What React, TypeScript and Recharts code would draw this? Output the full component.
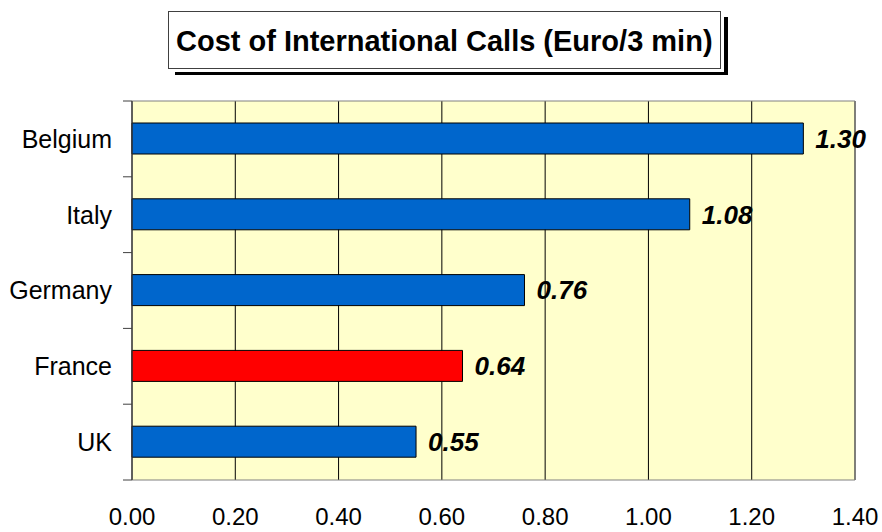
import { BarChart, Bar, XAxis, YAxis, CartesianGrid, ReferenceArea, LabelList, Cell } from 'recharts';

const countries = ['Belgium', 'Italy', 'Germany', 'France', 'UK'];
const costs = [1.3, 1.08, 0.76, 0.64, 0.55];
const barColors = ['#0066CC', '#0066CC', '#0066CC', '#FF0000', '#0066CC'];
const xTicks = [0, 0.2, 0.4, 0.6, 0.8, 1.0, 1.2, 1.4];

const data = countries.map((country, i) => ({ country, cost: costs[i] }));

const FONT = 'Arial, "Liberation Sans", Helvetica, sans-serif';
const PLOT_H = 379;
const BAND = PLOT_H / countries.length;

// category label plus the tick marks that sit on the band boundaries
function CountryTick(props: any) {
  const { x, y, payload, index } = props;
  const lineX1 = x + 11;
  const lineX2 = x + 20;
  return (
    <g>
      <text x={x} y={y} dy="0.355em" textAnchor="end" fontFamily={FONT} fontSize={25} fill="#000">
        {payload.value}
      </text>
      <line x1={lineX1} x2={lineX2} y1={y - BAND / 2} y2={y - BAND / 2} stroke="#404040" />
      {index === countries.length - 1 && (
        <line x1={lineX1} x2={lineX2} y1={y + BAND / 2} y2={y + BAND / 2} stroke="#404040" />
      )}
    </g>
  );
}

function ValueLabel(props: any) {
  const { x, y, width, height, value } = props;
  return (
    <text
      x={x + width + 12}
      y={y + height / 2}
      dy="0.355em"
      fontFamily={FONT}
      fontSize={26}
      fontWeight="bold"
      fontStyle="italic"
      fill="#000"
    >
      {Number(value).toFixed(2)}
    </text>
  );
}

export default function App() {
  return (
    <div style={{ position: 'absolute', left: 0, top: 0, width: 882, height: 532, background: '#fff' }}>
      <div
        style={{
          position: 'absolute',
          left: 168,
          top: 11,
          width: 551,
          height: 56,
          border: '1px solid #404040',
          background: '#fff',
          boxShadow: '0 0 0 3px #fff, 7px 6px 0 #000',
          boxSizing: 'content-box',
        }}
      >
        <div
          style={{
            fontFamily: FONT,
            fontWeight: 'bold',
            fontSize: 29,
            lineHeight: '58px',
            whiteSpace: 'nowrap',
            paddingLeft: 7,
            color: '#000',
          }}
        >
          Cost of International Calls (Euro/3 min)
        </div>
      </div>
      <div style={{ position: 'absolute', left: 0, top: 0 }}>
        <BarChart
          width={882}
          height={532}
          data={data}
          layout="vertical"
          margin={{ top: 101, right: 27, bottom: 0, left: 0 }}
          barSize={31}
        >
          <CartesianGrid fill="#FFFFCC" stroke="#000" horizontal={false} vertical={true} />
          <XAxis
            type="number"
            dataKey="cost"
            domain={[0, 1.4]}
            ticks={xTicks}
            tickFormatter={(v: number) => v.toFixed(2)}
            axisLine={false}
            tickLine={false}
            tickSize={6}
            tickMargin={22}
            height={52}
            tick={{ fontFamily: FONT, fontSize: 24, fill: '#000' }}
            interval={0}
          />
          <YAxis
            type="category"
            dataKey="country"
            width={132}
            tickLine={false}
            tickSize={9}
            tickMargin={11}
            axisLine={{ stroke: '#404040' }}
            tick={<CountryTick />}
            interval={0}
          />
          <ReferenceArea x1={0} x2={1.4} fill="none" fillOpacity={0} stroke="#808080" strokeWidth={1} />
          <Bar dataKey="cost" stroke="#000" strokeWidth={1} isAnimationActive={false}>
            {data.map((d, i) => (
              <Cell key={d.country} fill={barColors[i]} />
            ))}
            <LabelList dataKey="cost" content={<ValueLabel />} />
          </Bar>
        </BarChart>
      </div>
    </div>
  );
}
